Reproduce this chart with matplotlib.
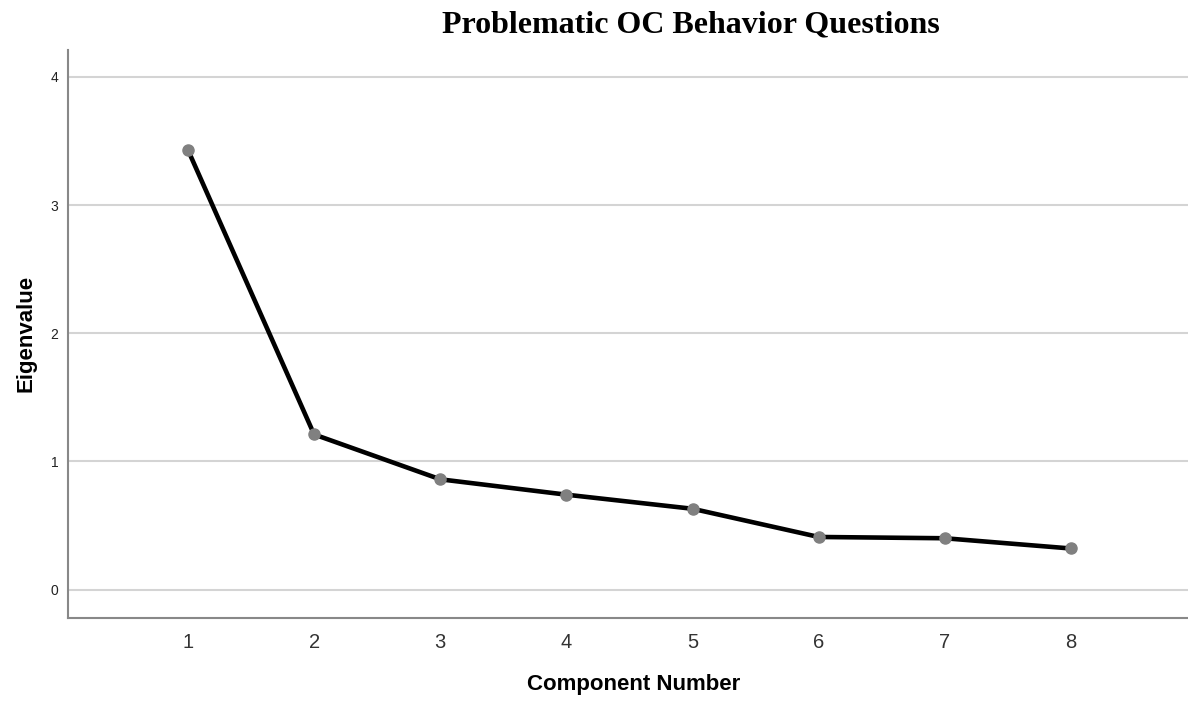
import matplotlib
matplotlib.use("Agg")
import matplotlib.pyplot as plt

components = [1, 2, 3, 4, 5, 6, 7, 8]
eigenvalues = [3.43, 1.21, 0.86, 0.74, 0.63, 0.41, 0.40, 0.32]
y_ticks = [0, 1, 2, 3, 4]
title = "Problematic OC Behavior Questions"

W, H = 1188, 706
fig = plt.figure(figsize=(W/100, H/100), dpi=100)
ax_w = 1 - 68/W + 0.01
ax = fig.add_axes([68/W, (H-617.7)/H, ax_w, (617.7-50)/H])

ax.set_xlim(0.049, 9.022)
ax.set_ylim(-0.22, 4.21)
ax.set_yticks(y_ticks)
ax.set_xticks(components)
for y in y_ticks:
    ax.axhline(y, color="#d4d4d4", lw=1.5, zorder=1)

ax.plot(components, eigenvalues, color="black", lw=3.3, zorder=2, solid_capstyle="round")
ax.plot(components, eigenvalues, ls="none", marker="o", ms=8, color="#808080", zorder=3)

for s in ["top", "right"]:
    ax.spines[s].set_visible(False)
for s in ["left", "bottom"]:
    ax.spines[s].set_color("#888888")
    ax.spines[s].set_linewidth(1.5)

ax.tick_params(axis="both", length=0)
ax.tick_params(axis="y", labelsize=10, labelcolor="#222222", pad=7)
ax.tick_params(axis="x", labelsize=14.5, labelcolor="#333333", pad=11)
for lab in ax.get_xticklabels() + ax.get_yticklabels():
    lab.set_family("Liberation Sans")

ax.set_ylabel("Eigenvalue", fontsize=16, fontweight="bold", family="Liberation Sans")
ax.yaxis.set_label_coords(-31/(ax_w*W), 0.5)
ax.set_xlabel("Component Number", fontsize=16, fontweight="bold", family="Liberation Sans")
ax.xaxis.set_label_coords(0.5 - 0.005*0, -(674-617.7)/(617.7-50))

fig.text(691/W, 1 - 32/H, title, ha="center", va="baseline", fontsize=23,
         fontweight="bold", family="Liberation Serif")

fig.savefig("out.png", dpi=100)
